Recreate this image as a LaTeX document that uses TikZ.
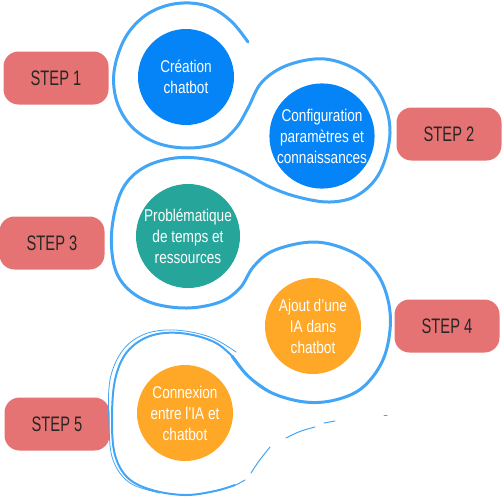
\documentclass[tikz,border=0pt]{standalone}
\usepackage{fontspec}
\setmainfont{Liberation Sans}
\newfontfamily\narrowfont[FakeStretch=0.8]{Liberation Sans}
\newfontfamily\stepfont[FakeStretch=0.7]{Liberation Sans}
\definecolor{stepred}{HTML}{E57373}
\definecolor{chatblue}{HTML}{0584F8}
\definecolor{chatteal}{HTML}{26A69A}
\definecolor{chatorange}{HTML}{FFA726}
\definecolor{loopblue}{HTML}{42A5F5}
\begin{document}
\begin{tikzpicture}[x=1pt,y=-1pt,
    stepbox/.style={fill=stepred,rounded corners=15pt,minimum width=105pt,minimum height=53pt,
        text=black!85,font=\stepfont\fontsize{21}{21}\selectfont},
    bubble/.style={circle,inner sep=0pt,align=center,text=white,
        font=\narrowfont\fontsize{17}{21}\selectfont},
    loopline/.style={draw=loopblue,line cap=round,line join=round}]
    \useasboundingbox (0,0) rectangle (502,496);
    % steps
    \node[stepbox] (step1) at (56,78) {STEP 1};
    \node[stepbox] (step2) at (449,134) {STEP 2};
    \node[stepbox] (step3) at (52,243) {STEP 3};
    \node[stepbox] (step4) at (447,326) {STEP 4};
    \node[stepbox] (step5) at (57,424) {STEP 5};
    % bubbles
    \node[bubble,fill=chatblue,minimum size=96pt] (creation) at (186,77) {Création\\chatbot};
    \node[bubble,fill=chatblue,minimum size=104pt] (config) at (322,136) {Configuration\\paramètres et\\connaissances};
    \node[bubble,fill=chatteal,minimum size=104pt] (probleme) at (188,236) {Problématique\\de temps et\\ressources};
    \node[bubble,fill=chatorange,minimum size=96pt] (ajout) at (313,326) {Ajout d’une\\IA dans\\chatbot};
    \node[bubble,fill=chatorange,minimum size=96pt] (connexion) at (185,413) {Connexion\\entre l’IA et\\chatbot};
    % loops round the bubbles
    \draw[loopline,line width=3pt] plot[smooth,tension=0.6] coordinates {
        (248,42) (232,22) (212,8) (190,3) (165,6) (142,18) (124,40) (114,72) (117,102)
        (132,127) (157,143) (188,148) (218,143) (236,128) (248,108) (262,82) (288,65)
        (325,59) (360,72) (382,98) (390,133) (380,172) (358,195) (330,202) (298,197)
        (270,187) (242,172) (210,160) (175,158) (143,168) (122,190) (112,228) (114,265)
        (127,288) (152,303) (187,308) (220,302) (240,288) (254,266) (275,250) (315,242)
        (352,252) (376,272) (388,300) (390,330) (382,362) (362,388) (335,400) (305,402)
        (272,393) (248,376) (232,356)};
    \draw[loopline,line width=2pt] plot[smooth,tension=0.6] coordinates {
        (272,393) (248,376) (232,356) (212,341) (180,333) (150,336) (127,352) (115,380)
        (112,420) (115,455) (128,478) (152,490) (185,495) (215,491) (235,485)};
    \draw[loopline,line width=0.8pt] plot[smooth,tension=0.6] coordinates {
        (236,352) (210,337) (175,330) (145,334) (123,350) (110,380) (109,425)
        (113,460) (130,483) (160,493)};
    % fading tail
    \draw[loopline,line width=1pt] (236,485) -- (245,480);
    \draw[loopline,line width=1pt] (251,473) .. controls (258,462) .. (270,447);
    \draw[loopline,line width=1pt] (286,438) .. controls (300,431) .. (315,427);
    \draw[loopline,line width=1pt] (324,423) -- (335,421);
    \draw[loopline,line width=1pt] (384,415) -- (387,415);
\end{tikzpicture}
\end{document}
